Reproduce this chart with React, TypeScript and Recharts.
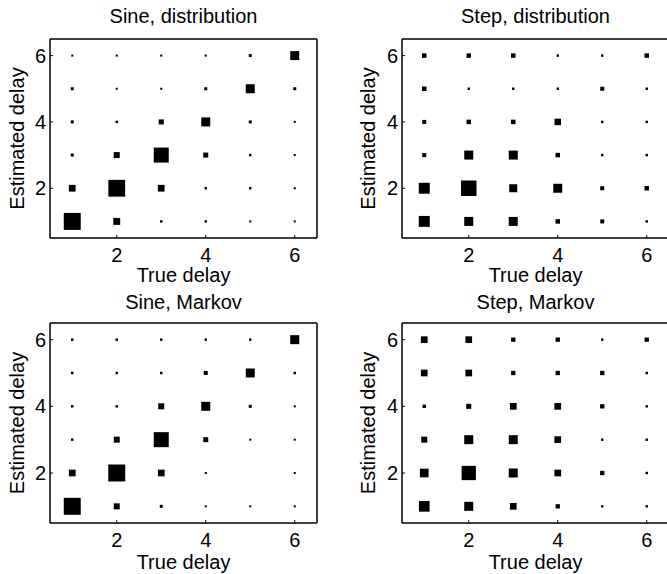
import { ScatterChart, Scatter, XAxis, YAxis, ZAxis, Label } from 'recharts';

// true delay along x, estimated delay along y (rows = estimated delay 1..6)
const trueDelays = [1, 2, 3, 4, 5, 6];
const estDelays = [1, 2, 3, 4, 5, 6];
const axisTicks = [2, 4, 6];

const sineDistribution = [
  [0.48, 0.08, 0.01, 0.01, 0.007, 0.007],
  [0.075, 0.47, 0.075, 0.01, 0.01, 0.007],
  [0.015, 0.06, 0.375, 0.042, 0.01, 0.007],
  [0.015, 0.01, 0.042, 0.135, 0.015, 0.007],
  [0.015, 0.007, 0.007, 0.015, 0.135, 0.015],
  [0.007, 0.007, 0.007, 0.007, 0.015, 0.135],
];

const stepDistribution = [
  [0.2, 0.135, 0.135, 0.034, 0.027, 0.01],
  [0.2, 0.4, 0.107, 0.135, 0.027, 0.034],
  [0.027, 0.135, 0.135, 0.034, 0.01, 0.01],
  [0.027, 0.034, 0.034, 0.07, 0.01, 0.01],
  [0.034, 0.01, 0.01, 0.01, 0.027, 0.01],
  [0.034, 0.034, 0.034, 0.01, 0.01, 0.034],
];

const sineMarkov = [
  [0.48, 0.06, 0.015, 0.007, 0.007, 0.007],
  [0.075, 0.48, 0.075, 0.007, 0, 0.007],
  [0.01, 0.06, 0.375, 0.042, 0.007, 0.007],
  [0.01, 0.01, 0.06, 0.135, 0.015, 0.007],
  [0.01, 0.01, 0.01, 0.027, 0.135, 0.01],
  [0.01, 0.01, 0.01, 0.01, 0.01, 0.135],
];

const stepMarkov = [
  [0.19, 0.135, 0.075, 0.031, 0.01, 0.01],
  [0.126, 0.34, 0.135, 0.075, 0.031, 0.01],
  [0.06, 0.135, 0.135, 0.075, 0.01, 0.01],
  [0.02, 0.042, 0.075, 0.075, 0.031, 0.01],
  [0.075, 0.075, 0.031, 0.031, 0.031, 0.01],
  [0.075, 0.075, 0.031, 0.031, 0.01, 0.031],
];

const toPoints = (matrix: number[][]) =>
  estDelays.flatMap((est, i) =>
    trueDelays.map((tr, j) => ({ x: tr, y: est, p: matrix[i][j] })).filter((d) => d.p > 0)
  );

const FONT = { fontSize: 20, fill: '#000' };
const FRAME = { stroke: '#000', strokeWidth: 1.5 };

interface PanelProps {
  title: string;
  matrix: number[][];
  left: number;
  top: number;
  wide: boolean;
  lower: boolean;
}

function Panel({ title, matrix, left, top, wide, lower }: PanelProps) {
  const width = wide ? 338 : 334;
  const yw = wide ? 69 : 50;
  const mTop = lower ? 35 : 38;
  const xh = lower ? 51 : 49;
  const plotW = 267;
  return (
    <div style={{ position: 'absolute', left, top, width, height: 287 }}>
      <div
        style={{
          position: 'absolute',
          left: yw,
          width: plotW,
          top: lower ? 3.5 : 5,
          textAlign: 'center',
          fontSize: 20,
          lineHeight: '23px',
          color: '#000',
        }}
      >
        {title}
      </div>
      <ScatterChart
        width={width}
        height={287}
        margin={{ top: mTop, right: width - yw - plotW - 1, bottom: 0, left: 0 }}
      >
        <XAxis
          type="number"
          dataKey="x"
          domain={[0.5, 6.5]}
          ticks={axisTicks}
          interval={0}
          height={xh}
          tickSize={-3}
          tickMargin={13}
          tick={FONT}
          axisLine={FRAME}
          tickLine={{ stroke: '#000' }}
        >
          <Label value="True delay" position="insideBottom" offset={5} style={FONT} />
        </XAxis>
        <XAxis
          xAxisId="top"
          orientation="top"
          type="number"
          dataKey="x"
          domain={[0.5, 6.5]}
          ticks={axisTicks}
          interval={0}
          height={1}
          tickSize={-3}
          tick={false}
          axisLine={FRAME}
          tickLine={{ stroke: '#000' }}
        />
        <YAxis
          type="number"
          dataKey="y"
          domain={[0.5, 6.5]}
          ticks={axisTicks}
          interval={0}
          width={yw}
          tickSize={-3}
          tickMargin={7}
          tick={FONT}
          axisLine={FRAME}
          tickLine={{ stroke: '#000' }}
        >
          <Label
            value="Estimated delay"
            angle={-90}
            position="center"
            dx={wide ? 0 : -8}
            style={{ ...FONT, textAnchor: 'middle' }}
          />
        </YAxis>
        <YAxis
          yAxisId="right"
          orientation="right"
          type="number"
          dataKey="y"
          domain={[0.5, 6.5]}
          ticks={axisTicks}
          interval={0}
          width={1}
          tickSize={-3}
          tick={false}
          axisLine={FRAME}
          tickLine={{ stroke: '#000' }}
        />
        <ZAxis type="number" dataKey="p" domain={[0, 0.5]} range={[0, 300]} />
        <Scatter data={toPoints(matrix)} shape="square" fill="#000" isAnimationActive={false} />
      </ScatterChart>
    </div>
  );
}

export default function App() {
  return (
    <div
      style={{
        position: 'absolute',
        left: 0,
        top: 0,
        width: 667,
        height: 574,
        overflow: 'hidden',
        background: '#fff',
        fontFamily: '"Liberation Sans", Arial, sans-serif',
      }}
    >
      <Panel title="Sine, distribution" matrix={sineDistribution} left={0} top={0} wide={false} lower={false} />
      <Panel title="Step, distribution" matrix={stepDistribution} left={333} top={0} wide={true} lower={false} />
      <Panel title="Sine, Markov" matrix={sineMarkov} left={0} top={287} wide={false} lower={true} />
      <Panel title="Step, Markov" matrix={stepMarkov} left={333} top={287} wide={true} lower={true} />
    </div>
  );
}
